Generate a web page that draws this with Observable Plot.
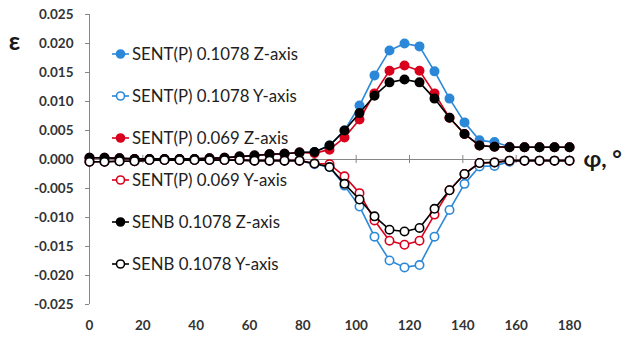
<!DOCTYPE html>
<html><head><meta charset="utf-8">
<script src="https://cdn.jsdelivr.net/npm/d3@7"></script>
<script src="https://cdn.jsdelivr.net/npm/@observablehq/plot@0.6"></script>
<style>
body{margin:0;background:#fff;}
#wrap{position:relative;width:625px;height:340px;font-family:Lato,"Open Sans",sans-serif;}
#wrap > svg{position:absolute;left:0;top:0;}
.leg{position:absolute;left:112px;height:20px;display:flex;align-items:center;font-size:16.8px;color:#1e1e1e;white-space:nowrap;}
.leg svg{margin-right:1px;}
</style></head><body><div id="wrap"></div>
<script>
// angle φ, degrees
const phi = [0, 5.625, 11.25, 16.875, 22.5, 28.125, 33.75, 39.375, 45, 50.625, 56.25, 61.875, 67.5, 73.125, 78.75, 84.375, 90, 95.625, 101.25, 106.875, 112.5, 118.125, 123.75, 129.375, 135, 140.625, 146.25, 151.875, 157.5, 163.125, 168.75, 174.375, 180];

const sentP1078Z = [0.0003,0.0003,0.0002,0.0001,0.0001,0.0001,0.0001,0.0001,0.0002,0.0003,0.0005,0.0007,0.0009,0.0010,0.0012,0.0013,0.0024,0.0050,0.0093,0.0145,0.0188,0.0200,0.0195,0.0152,0.0105,0.0064,0.0033,0.0030,0.0022,0.0021,0.0021,0.0021,0.0021];
const sentP1078Y = [-0.0004,-0.0004,-0.0003,-0.0003,-0.0001,-0.0001,-0.0001,-0.0001,-0.0001,-0.0001,-0.0001,-0.0002,-0.0002,-0.0002,-0.0002,-0.0008,-0.0013,-0.0045,-0.0081,-0.0133,-0.0174,-0.0186,-0.0182,-0.0133,-0.0087,-0.0042,-0.0012,-0.0011,-0.0004,-0.0002,-0.0002,-0.0002,-0.0002];
const sentP069Z = [0.0003,0.0003,0.0002,0.0001,0.0001,0.0001,0.0001,0.0001,0.0002,0.0003,0.0005,0.0007,0.0009,0.0010,0.0012,0.0011,0.0017,0.0038,0.0069,0.0114,0.0153,0.0162,0.0153,0.0114,0.0072,0.0044,0.0024,0.0022,0.0021,0.0021,0.0021,0.0021,0.0021];
const sentP069Y = [-0.0004,-0.0004,-0.0003,-0.0003,-0.0001,-0.0001,-0.0001,-0.0001,-0.0001,-0.0001,-0.0001,-0.0002,-0.0002,-0.0002,-0.0002,-0.0007,-0.0008,-0.0029,-0.0058,-0.0105,-0.0140,-0.0147,-0.0140,-0.0095,-0.0053,-0.0025,-0.0006,-0.0005,-0.0002,-0.0002,-0.0002,-0.0002,-0.0002];
const senb1078Z = [0.0003,0.0003,0.0002,0.0001,0.0001,0.0001,0.0001,0.0001,0.0002,0.0003,0.0005,0.0007,0.0009,0.0010,0.0012,0.0013,0.0024,0.0050,0.0080,0.0110,0.0133,0.0138,0.0133,0.0105,0.0072,0.0044,0.0024,0.0022,0.0021,0.0021,0.0021,0.0021,0.0021];
const senb1078Y = [-0.0004,-0.0004,-0.0003,-0.0003,-0.0001,-0.0001,-0.0001,-0.0001,-0.0001,-0.0001,-0.0001,-0.0002,-0.0002,-0.0002,-0.0002,-0.0007,-0.0013,-0.0042,-0.0069,-0.0098,-0.0121,-0.0124,-0.0118,-0.0085,-0.0053,-0.0025,-0.0006,-0.0005,-0.0002,-0.0002,-0.0002,-0.0002,-0.0002];

const seriesNames = ["SENT(P) 0.1078 Z-axis","SENT(P) 0.1078 Y-axis","SENT(P) 0.069 Z-axis","SENT(P) 0.069 Y-axis","SENB 0.1078 Z-axis","SENB 0.1078 Y-axis"];
const seriesValues = [sentP1078Z, sentP1078Y, sentP069Z, sentP069Y, senb1078Z, senb1078Y];
const seriesColors = ["#2b88d8","#2b88d8","#d8001c","#d8001c","#000000","#000000"];
const seriesFilled = [true,false,true,false,true,false];

const xTicks = [0,20,40,60,80,100,120,140,160,180];
const yTicks = [-0.025,-0.02,-0.015,-0.01,-0.005,0,0.005,0.01,0.015,0.02,0.025];

const axisColor = "#868686";
const labelColor = "#333333";

const marks = [
  Plot.ruleY([0], {stroke: axisColor}),
  Plot.ruleX(xTicks.filter(d => d > 0), {x: d => d, y1: -0.0007, y2: 0.0007, stroke: axisColor}),
  Plot.ruleX([0], {stroke: axisColor}),
  Plot.axisY(yTicks, {tickSize: 4, tickPadding: 12, stroke: axisColor, tickFormat: d => d.toFixed(3), fontWeight: "bold", fontSize: 13.5, fill: labelColor, label: null}),
  Plot.axisX(xTicks, {tickSize: 0, tickPadding: 16, fontWeight: "bold", fontSize: 13.5, fill: labelColor, label: null})
];
seriesNames.forEach((name, k) => {
  const rows = phi.map((p, i) => ({phi: p, v: seriesValues[k][i]}));
  marks.push(Plot.line(rows, {x: "phi", y: "v", stroke: seriesColors[k], strokeWidth: 1.6}));
  marks.push(Plot.dot(rows, {x: "phi", y: "v", r: 4.2, stroke: seriesColors[k], strokeWidth: 1.6, fill: seriesFilled[k] ? seriesColors[k] : "white"}));
});
marks.push(Plot.text(["φ, °"], {frameAnchor: "right", dx: 14, textAnchor: "start", fontSize: 23, fontWeight: "bold", fill: "#1a1a1a"}));
marks.push(Plot.text(["ε"], {frameAnchor: "top-left", dx: -75, dy: 18, textAnchor: "middle", fontSize: 25, fontWeight: "bold", fill: "#1a1a1a"}));

const chart = Plot.plot({
  width: 625, height: 340,
  marginLeft: 89, marginRight: 56, marginTop: 14, marginBottom: 36,
  style: {fontFamily: "Lato, 'Open Sans', sans-serif", background: "white", overflow: "visible"},
  x: {domain: [0, 180]},
  y: {domain: [-0.025, 0.025]},
  marks
});
const wrap = document.getElementById("wrap");
wrap.appendChild(chart);

seriesNames.forEach((name, k) => {
  const div = document.createElement("div");
  div.className = "leg";
  div.style.top = (43.5 + k * 42) + "px";
  const c = seriesColors[k];
  div.innerHTML = `<svg width="19" height="20"><line x1="0" x2="17" y1="10" y2="10" stroke="${c}" stroke-width="1.6"/><circle cx="8.5" cy="10" r="4" stroke="${c}" stroke-width="1.6" fill="${seriesFilled[k] ? c : "white"}"/></svg><span>${name}</span>`;
  wrap.appendChild(div);
});
</script>
</body></html>
